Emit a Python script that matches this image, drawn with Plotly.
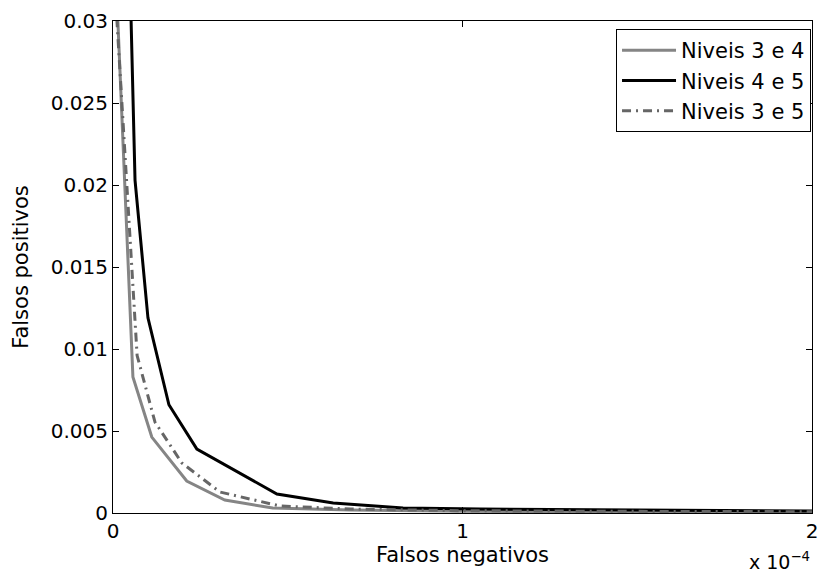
import plotly.graph_objects as go

# x values in units of 1e-4 (scaled below), y values as read
x_34 = [0.0, 0.057, 0.111, 0.211, 0.32, 0.457, 0.68, 1.0, 1.5, 2.0]
y_34 = [0.037, 0.0083, 0.00463, 0.00195, 0.00079, 0.0003, 0.00018, 0.0001, 0.00007, 0.00005]

x_45 = [0.046, 0.063, 0.10, 0.16, 0.24, 0.469, 0.63, 0.83, 1.05, 1.5, 2.0]
y_45 = [0.035, 0.0203, 0.0119, 0.0066, 0.0039, 0.00116, 0.00061, 0.0003, 0.00024, 0.00017, 0.00012]

x_35 = [0.0, 0.069, 0.12, 0.197, 0.306, 0.477, 0.68, 1.0, 1.5, 2.0]
y_35 = [0.034, 0.0096, 0.00555, 0.00305, 0.00128, 0.00043, 0.00024, 0.00014, 0.0001, 0.00008]

names = ["Niveis 3 e 4", "Niveis 4 e 5", "Niveis 3 e 5"]
x_ticks = [0, 1e-4, 2e-4]
x_tick_labels = ["0", "1", "2"]
y_ticks = [0, 0.005, 0.01, 0.015, 0.02, 0.025, 0.03]
y_tick_labels = ["0", "0.005", "0.01", "0.015", "0.02", "0.025", "0.03"]

scale = 1e-4
FONT = "DejaVu Sans"

fig = go.Figure()
fig.add_trace(go.Scatter(x=[v * scale for v in x_34], y=y_34, mode="lines", name=names[0],
                         line=dict(color="#858585", width=3)))
fig.add_trace(go.Scatter(x=[v * scale for v in x_45], y=y_45, mode="lines", name=names[1],
                         line=dict(color="black", width=3)))
fig.add_trace(go.Scatter(x=[v * scale for v in x_35], y=y_35, mode="lines", name=names[2],
                         line=dict(color="#666666", width=3, dash="9px,5px,2px,5px")))

axis_common = dict(showline=True, linecolor="black", linewidth=1, mirror="ticks",
                   ticks="inside", ticklen=6, tickcolor="black", showgrid=False,
                   zeroline=False, ticklabeloverflow="allow", automargin=False,
                   tickfont=dict(family=FONT, size=20, color="black"))

fig.update_layout(
    width=818, height=577,
    margin=dict(l=113, r=6, t=21, b=64),
    paper_bgcolor="white", plot_bgcolor="white",
    font=dict(family=FONT, color="black"),
    xaxis=dict(range=[0, 2e-4], tickvals=x_ticks, ticktext=x_tick_labels, **axis_common),
    yaxis=dict(range=[0, 0.03], tickvals=y_ticks, ticktext=y_tick_labels, **axis_common),
    legend=dict(x=0.9986, y=0.9837, xanchor="right", yanchor="top",
                bgcolor="white", bordercolor="black", borderwidth=1,
                font=dict(family=FONT, size=21, color="black"),
                itemwidth=54, tracegroupgap=0),
    showlegend=True,
)

fig.add_annotation(text="Falsos negativos", xref="paper", yref="paper",
                   x=0.5, y=-0.0854, xanchor="center", yanchor="middle", showarrow=False,
                   font=dict(family=FONT, size=21, color="black"))
fig.add_annotation(text="Falsos positivos", xref="paper", yref="paper",
                   x=-0.132, y=0.5, xanchor="center", yanchor="middle", textangle=-90,
                   showarrow=False, font=dict(family=FONT, size=21, color="black"))
fig.add_annotation(text="x 10<sup>\u22124</sup>", xref="paper", yref="paper",
                   x=1.0, y=-0.126, xanchor="right", yanchor="bottom", showarrow=False,
                   font=dict(family=FONT, size=19, color="black"))

fig.write_html("out.html")
